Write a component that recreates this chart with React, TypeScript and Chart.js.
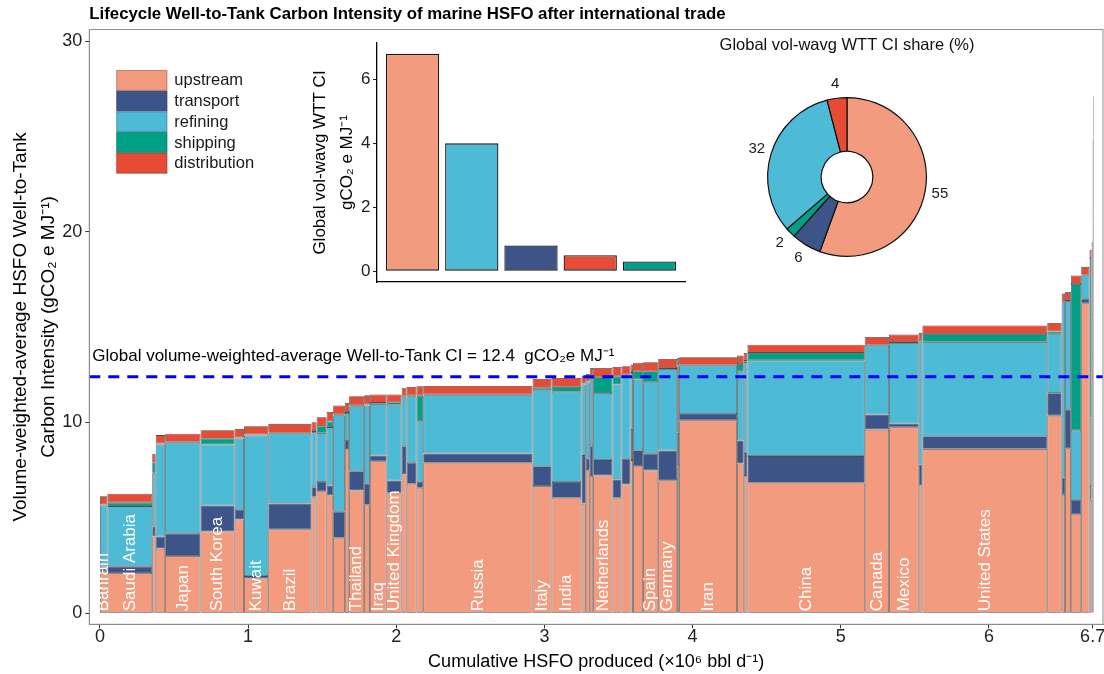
import React, { useEffect, useRef } from 'react';
import { Chart, BarController, registerables } from 'chart.js';

Chart.register(...registerables);

const FONT = "'Liberation Sans', Arial, Helvetica, sans-serif";
Chart.defaults.font.family = FONT;

// ---------------- data ----------------
const components = ['upstream', 'transport', 'refining', 'shipping', 'distribution'];
const COLORS: Record<string, string> = {
  upstream: '#F39B7F',
  transport: '#3C5488',
  refining: '#4DBBD5',
  shipping: '#00A087',
  distribution: '#E64B35',
};

const countries = [
  'Bahrain', 'Saudi Arabia', '', '', 'Japan', 'South Korea', '', 'Kuwait', 'Brazil', '',
  '', '', '', '', 'Thailand', '', 'Iraq', 'United Kingdom', '', '',
  '', 'Russia', 'Italy', 'India', '', '', '', 'Netherlands', '', '',
  '', '', 'Spain', 'Germany', '', 'Iran', '', '', 'China', 'Canada',
  'Mexico', '', 'United States', '', '', '', '', '', '', '',
  '', '',
];

// HSFO production per country (x10^6 bbl/d)
const volume = [
  0.050, 0.303, 0.023, 0.064, 0.239, 0.230, 0.063, 0.164, 0.292, 0.034,
  0.068, 0.044, 0.079, 0.029, 0.101, 0.039, 0.113, 0.101, 0.034, 0.067,
  0.045, 0.738, 0.128, 0.202, 0.029, 0.027, 0.023, 0.130, 0.061, 0.061,
  0.017, 0.068, 0.102, 0.128, 0.013, 0.391, 0.045, 0.025, 0.792, 0.164,
  0.200, 0.025, 0.843, 0.097, 0.023, 0.039, 0.070, 0.056, 0.014, 0.007,
  0.004, 0.004,
];

const upstream = [
  2.20, 2.11, 4.03, 3.39, 3.00, 4.29, 4.92, 1.82, 4.40, 6.11,
  6.40, 6.18, 3.96, 8.60, 6.44, 5.69, 7.97, 6.32, 7.28, 6.79,
  6.58, 7.89, 6.67, 6.06, 5.75, 7.50, 7.19, 7.22, 6.06, 6.75,
  8.03, 7.71, 7.49, 6.98, 7.71, 10.12, 7.85, 7.19, 6.84, 9.63,
  9.75, 6.70, 8.62, 10.36, 6.22, 8.65, 5.19, 16.25, 5.95, 6.00,
  11.0, 13.5,
];
const transport = [
  0.25, 0.35, 0.51, 0.63, 1.19, 1.36, 0.53, 0.13, 1.36, 0.50,
  0.48, 0.52, 1.36, 0.50, 1.01, 1.10, 0.30, 0.64, 1.48, 1.10,
  0.32, 0.49, 1.04, 0.82, 2.50, 0.60, 1.57, 0.81, 0.96, 1.35,
  1.64, 0.84, 0.87, 1.55, 1.75, 0.33, 1.21, 1.22, 1.40, 0.79,
  0.20, 1.10, 0.66, 1.18, 0.90, 2.02, 0.76, 0.24, 0.72, 0.60,
  3.0, 2.0,
];
const refining = [
  3.20, 3.16, 2.83, 4.83, 4.75, 3.20, 3.71, 7.37, 3.65, 2.89,
  2.58, 3.06, 5.06, 1.40, 3.40, 4.10, 2.71, 3.97, 2.59, 3.49,
  3.17, 3.05, 3.98, 4.73, 3.75, 4.00, 3.58, 3.52, 4.97, 4.36,
  2.93, 3.70, 3.75, 4.28, 3.49, 2.53, 3.63, 4.77, 5.02, 3.61,
  4.22, 6.46, 4.95, 3.09, 9.19, 5.70, 3.64, 1.21, 3.60, 3.85,
  6.5, 5.0,
];
const shipping = [
  0.05, 0.18, 0.52, 0.05, 0.05, 0.30, 0.05, 0.05, 0.05, 0.05,
  0.35, 0.30, 0.05, 0.05, 0.05, 0.05, 0.05, 0.13, 0.05, 0.05,
  1.34, 0.05, 0.13, 0.26, 0.05, 0.05, 0.05, 0.82, 0.43, 0.05,
  0.05, 0.44, 0.58, 0.05, 0.05, 0.05, 0.38, 0.05, 0.39, 0.05,
  0.05, 0.05, 0.41, 0.14, 0.05, 0.05, 7.67, 0.05, 8.36, 8.74,
  2.0, 0.5,
];
const distribution = [
  0.44, 0.47, 0.47, 0.44, 0.42, 0.45, 0.46, 0.44, 0.47, 0.47,
  0.47, 0.50, 0.46, 0.48, 0.48, 0.49, 0.44, 0.41, 0.42, 0.44,
  0.49, 0.44, 0.47, 0.47, 0.40, 0.40, 0.47, 0.49, 0.50, 0.44,
  0.39, 0.44, 0.47, 0.47, 0.39, 0.39, 0.45, 0.42, 0.43, 0.41,
  0.39, 0.39, 0.45, 0.45, 0.40, 0.43, 0.45, 0.41, 0.43, 0.27,
  2.3, 6.1,
];

const meanCI = 12.4;
const xTicks = [0, 1, 2, 3, 4, 5, 6, 6.7];
const yTicks = [0, 10, 20, 30];

// inset bar chart
const insetCategories = ['upstream', 'refining', 'transport', 'distribution', 'shipping'];
const insetValues = [6.8, 4.0, 0.8, 0.5, 0.3];
const insetTicks = [0, 2, 4, 6];

// inset doughnut (share %)
const pieCategories = ['upstream', 'transport', 'shipping', 'refining', 'distribution'];
const pieShares = [55, 6, 2, 32, 4];

// ---------------- axis ranges ----------------
const X_MIN = -0.072;
const X_MAX = 6.77;
const Y_MIN = -0.577;
const Y_MAX = 30.6;

// ---------------- variable-width (mekko) bar controller ----------------
class MekkoController extends (BarController as any) {
  static id = 'mekko';
  static defaults = { ...(BarController as any).defaults };
  static overrides = {
    scales: {
      _index_: { type: 'linear', offset: false, grid: { offset: false } },
      _value_: { type: 'linear', beginAtZero: true },
    },
  };
  _calculateBarIndexPixels(index: number) {
    const meta: any = (this as any)._cachedMeta;
    const raw: any = (this as any).getDataset().data[index];
    const a = meta.iScale.getPixelForValue(raw.x0);
    const b = meta.iScale.getPixelForValue(raw.x1);
    return { base: a, head: b, center: (a + b) / 2, size: b - a };
  }
}
Chart.register(MekkoController as any);

const series: Record<string, number[]> = { upstream, transport, refining, shipping, distribution };

function buildStarts(): number[] {
  const s: number[] = [];
  let acc = 0;
  volume.forEach((v) => {
    s.push(acc);
    acc += v;
  });
  return s;
}

// ---------------- plugins ----------------
const framePlugin = {
  id: 'frame',
  afterDatasetsDraw(chart: any) {
    const { ctx, chartArea: a } = chart;
    ctx.save();
    ctx.strokeStyle = '#8c8c8c';
    ctx.lineWidth = 1;
    ctx.strokeRect(a.left, a.top, a.right - a.left, a.bottom - a.top);
    ctx.restore();
  },
};

const countryLabelPlugin = {
  id: 'countryLabels',
  afterDatasetsDraw(chart: any) {
    const { ctx } = chart;
    const xs = chart.scales.x;
    const ys = chart.scales.y;
    const starts = buildStarts();
    ctx.save();
    ctx.fillStyle = '#ffffff';
    ctx.font = `17px ${FONT}`;
    ctx.textAlign = 'left';
    ctx.textBaseline = 'middle';
    countries.forEach((name, i) => {
      if (!name) return;
      const px = xs.getPixelForValue(starts[i] + volume[i] / 2);
      const py = ys.getPixelForValue(0) - 2;
      ctx.save();
      ctx.translate(px, py);
      ctx.rotate(-Math.PI / 2);
      ctx.fillText(name, 0, 0);
      ctx.restore();
    });
    ctx.restore();
  },
};

const meanLabelPlugin = {
  id: 'meanLabel',
  afterDatasetsDraw(chart: any) {
    const { ctx, chartArea } = chart;
    const y = chart.scales.y.getPixelForValue(meanCI) - 20;
    ctx.save();
    ctx.fillStyle = '#000';
    ctx.font = `17px ${FONT}`;
    ctx.textAlign = 'left';
    ctx.textBaseline = 'middle';
    ctx.fillText(`Global volume-weighted-average Well-to-Tank CI = ${meanCI}  gCO\u2082e MJ\u207B\u00B9`, chartArea.left + 3, y);
    ctx.restore();
  },
};

const legendPlugin = {
  id: 'boxLegend',
  afterDraw(chart: any) {
    const { ctx, chartArea } = chart;
    const x0 = chartArea.left + 27;
    const y0 = chartArea.top + 40.5;
    const w = 51;
    const h = 20.7;
    ctx.save();
    components.forEach((c, i) => {
      const y = y0 + i * h;
      ctx.fillStyle = COLORS[c];
      ctx.fillRect(x0, y, w, h);
      ctx.strokeStyle = 'rgba(80,80,80,0.35)';
      ctx.lineWidth = 1;
      ctx.strokeRect(x0 + 0.5, y + 0.5, w - 1, h - 1);
      ctx.fillStyle = '#1a1a1a';
      ctx.font = `16.5px ${FONT}`;
      ctx.textAlign = 'left';
      ctx.textBaseline = 'middle';
      ctx.fillText(c, x0 + w + 7, y + h / 2 + 0.5);
    });
    ctx.restore();
  },
};

const pieLabelPlugin = {
  id: 'pieLabels',
  afterDatasetsDraw(chart: any) {
    const { ctx } = chart;
    const meta = chart.getDatasetMeta(0);
    ctx.save();
    ctx.fillStyle = '#1a1a1a';
    ctx.font = `15px ${FONT}`;
    ctx.textAlign = 'center';
    ctx.textBaseline = 'middle';
    meta.data.forEach((arc: any, i: number) => {
      const mid = (arc.startAngle + arc.endAngle) / 2;
      const r = arc.outerRadius + 15;
      ctx.fillText(String(pieShares[i]), arc.x + Math.cos(mid) * r, arc.y + Math.sin(mid) * r);
    });
    ctx.restore();
  },
};

const tickFont = { family: FONT, size: 18 };

export default function App() {
  const mainRef = useRef<HTMLCanvasElement>(null);
  const barRef = useRef<HTMLCanvasElement>(null);
  const pieRef = useRef<HTMLCanvasElement>(null);

  useEffect(() => {
    const starts = buildStarts();
    const compDatasets = components.map((c, ci) => ({
      label: c,
      backgroundColor: COLORS[c],
      borderColor: '#4d4d4d',
      borderWidth: 0.8,
      borderSkipped: false,
      data: volume.map((v, i) => {
        let lo = 0;
        for (let k = 0; k < ci; k++) lo += series[components[k]][i];
        const hi = lo + series[c][i];
        return { x: starts[i] + v / 2, y: [lo, hi], x0: starts[i], x1: starts[i] + v };
      }),
    }));

    const main = new Chart(mainRef.current as HTMLCanvasElement, {
      type: 'mekko' as any,
      data: {
        datasets: [
          {
            type: 'line',
            label: 'global mean',
            data: [
              { x: X_MIN, y: meanCI },
              { x: X_MAX, y: meanCI },
            ],
            borderColor: '#0000FF',
            borderWidth: 3,
            borderDash: [11, 8],
            pointRadius: 0,
            fill: false,
            order: -1,
          } as any,
          ...compDatasets,
        ],
      },
      options: {
        responsive: false,
        animation: false,
        events: [],
        layout: { padding: { left: 0, right: 1, top: 0, bottom: 0 } },
        plugins: {
          legend: { display: false },
          tooltip: { enabled: false },
          title: {
            display: true,
            fullSize: false,
            align: 'start',
            text: 'Lifecycle Well-to-Tank Carbon Intensity of marine HSFO after international trade',
            color: '#000',
            font: { family: FONT, size: 16.8, weight: 'bold' },
            padding: { top: 3.9, bottom: 5.5 },
          },
        },
        scales: {
          x: {
            type: 'linear',
            min: X_MIN,
            max: X_MAX,
            afterBuildTicks: (s: any) => {
              s.ticks = xTicks.map((v) => ({ value: v }));
            },
            afterFit: (s: any) => {
              s.height = 49.7;
              s.paddingLeft = 0;
              s.paddingRight = 0;
            },
            ticks: {
              font: tickFont,
              color: '#222',
              padding: -1.6,
              autoSkip: false,
              maxRotation: 0,
              callback: (v: any) => String(v),
            },
            grid: { drawOnChartArea: false, tickLength: 4, tickColor: '#333', color: '#333' },
            border: { color: '#8c8c8c', width: 1 },
            title: {
              display: true,
              text: 'Cumulative HSFO produced (\u00D710\u2076 bbl d\u207B\u00B9)',
              color: '#000',
              font: { family: FONT, size: 18 },
              padding: { top: 0, bottom: 1.2 },
            },
          },
          y: {
            type: 'linear',
            min: Y_MIN,
            max: Y_MAX,
            afterBuildTicks: (s: any) => {
              s.ticks = yTicks.map((v) => ({ value: v }));
            },
            afterFit: (s: any) => {
              s.width = 89.3;
              s.paddingTop = 0;
              s.paddingBottom = 0;
            },
            ticks: { font: tickFont, color: '#222', padding: 3, callback: (v: any) => String(v) },
            grid: { drawOnChartArea: false, tickLength: 4, tickColor: '#333', color: '#333' },
            border: { color: '#8c8c8c', width: 1 },
            title: {
              display: true,
              text: ['Volume-weighted-average HSFO Well-to-Tank', 'Carbon Intensity (gCO\u2082 e MJ\u207B\u00B9)'],
              color: '#000',
              font: { family: FONT, size: 19, lineHeight: 1.45 },
              padding: { top: 7, bottom: 0 },
            },
          },
        },
      } as any,
      plugins: [countryLabelPlugin, meanLabelPlugin, framePlugin, legendPlugin],
    });

    const bar = new Chart(barRef.current as HTMLCanvasElement, {
      type: 'bar',
      data: {
        datasets: [
          {
            label: 'Global vol-wavg WTT CI',
            data: insetValues.map((v, i) => ({ x: i + 1, y: v })),
            backgroundColor: insetCategories.map((c) => COLORS[c]),
            borderColor: '#1a1a1a',
            borderWidth: 1.3,
            borderSkipped: false,
            categoryPercentage: 1,
            barPercentage: 0.9,
          } as any,
        ],
      },
      options: {
        responsive: false,
        animation: false,
        events: [],
        layout: { padding: { left: 0, right: 15, top: 8, bottom: 0 } },
        plugins: { legend: { display: false }, tooltip: { enabled: false } },
        scales: {
          x: {
            type: 'linear',
            min: 0.4,
            max: 5.6,
            offset: false,
            afterBuildTicks: (s: any) => {
              s.ticks = insetCategories.map((_, i) => ({ value: i + 1 }));
            },
            ticks: { display: false },
            grid: { display: true, drawOnChartArea: false, drawTicks: false, offset: false },
            border: { color: '#000', width: 1.3 },
            afterFit: (s: any) => {
              s.height = 13;
              s.paddingLeft = 0;
              s.paddingRight = 0;
            },
          },
          y: {
            type: 'linear',
            min: -0.34,
            max: 7.14,
            afterBuildTicks: (s: any) => {
              s.ticks = insetTicks.map((v) => ({ value: v }));
            },
            afterFit: (s: any) => {
              s.width = 77;
              s.paddingTop = 0;
              s.paddingBottom = 0;
            },
            ticks: { font: { family: FONT, size: 17 }, color: '#222', padding: 2.5, callback: (v: any) => String(v) },
            grid: { drawOnChartArea: false, tickLength: 4, tickColor: '#222', color: '#222' },
            border: { color: '#000', width: 1.3 },
            title: {
              display: true,
              text: ['Global vol-wavg WTT CI', 'gCO\u2082 e MJ\u207B\u00B9'],
              color: '#000',
              font: { family: FONT, size: 17, lineHeight: 1.59 },
              padding: { top: 6.5, bottom: 0 },
            },
          },
        },
      } as any,
    });

    const pie = new Chart(pieRef.current as HTMLCanvasElement, {
      type: 'doughnut',
      data: {
        labels: pieCategories,
        datasets: [
          {
            data: pieShares,
            backgroundColor: pieCategories.map((c) => COLORS[c]),
            borderColor: '#111',
            borderWidth: 1.2,
          },
        ],
      },
      options: {
        responsive: false,
        animation: false,
        events: [],
        cutout: '32.5%',
        layout: { padding: { left: 0, right: 0, top: 0, bottom: 23 } },
        plugins: {
          legend: { display: false },
          tooltip: { enabled: false },
          title: {
            display: true,
            text: 'Global vol-wavg WTT CI share (%)',
            color: '#111',
            font: { family: FONT, size: 16.5, weight: 'normal' },
            padding: { top: 5.7, bottom: 41.5 },
          },
        },
      } as any,
      plugins: [pieLabelPlugin],
    });

    return () => {
      main.destroy();
      bar.destroy();
      pie.destroy();
    };
  }, []);

  return (
    <div style={{ position: 'fixed', left: 0, top: 0, width: 1104, height: 674, background: '#fff', overflow: 'hidden' }}>
      <canvas ref={mainRef} width={1104} height={674} style={{ position: 'absolute', left: 0, top: 0 }} />
      <canvas ref={barRef} width={400} height={260} style={{ position: 'absolute', left: 300, top: 35 }} />
      <canvas ref={pieRef} width={294} height={250} style={{ position: 'absolute', left: 700, top: 30 }} />
    </div>
  );
}
